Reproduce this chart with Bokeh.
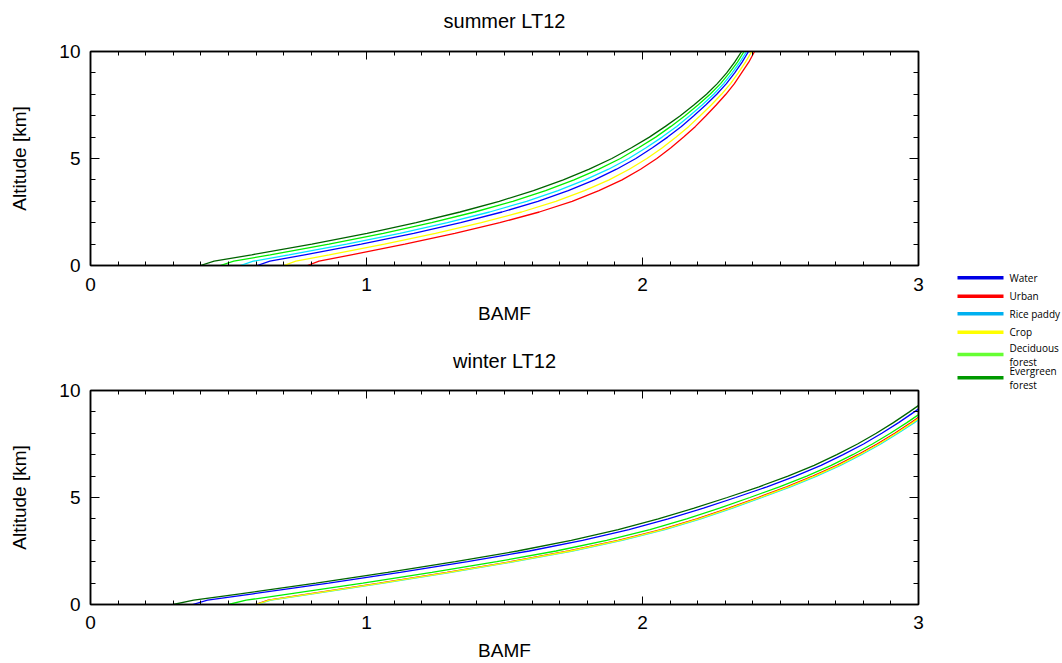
from bokeh.plotting import figure
from bokeh.models import (Range1d, LinearAxis, SingleIntervalTicker, ColumnDataSource,
                          CustomLabelingPolicy)
from bokeh.layouts import row, column
from bokeh.core.properties import value
from bokeh.embed import file_html
from bokeh.resources import INLINE

# ---------------- data ----------------
panel_titles = ["summer LT12", "winter LT12"]
series_names = ["Water", "Urban", "Rice paddy", "Crop", "Deciduous forest", "Evergreen forest"]
legend_labels = ["Water", "Urban", "Rice paddy", "Crop", "Deciduous\nforest", "Evergreen\nforest"]
line_colors = ["#0000FF", "#FF0000", "#00E5FF", "#FFFF00", "#00F000", "#006400"]
legend_colors = ["#0000E6", "#FF0000", "#00B0F0", "#FFFF00", "#66FF33", "#009900"]

altitude = [0, 0.2, 0.5, 1, 1.5, 2, 2.5, 3, 3.5, 4, 4.5, 5, 5.5, 6, 6.5, 7, 7.5, 8, 8.5, 9, 9.5, 10]

summer_water = [0.604, 0.650, 0.776, 0.981, 1.171, 1.341, 1.491, 1.621, 1.731, 1.826, 1.906,
                1.976, 2.036, 2.091, 2.141, 2.186, 2.229, 2.269, 2.304, 2.334, 2.361, 2.384]
summer_urban = [0.786, 0.828, 0.945, 1.139, 1.320, 1.483, 1.626, 1.745, 1.842, 1.926, 1.993,
                2.052, 2.103, 2.149, 2.192, 2.230, 2.267, 2.302, 2.333, 2.359, 2.385, 2.406]
summer_rice = [0.543, 0.590, 0.719, 0.928, 1.121, 1.293, 1.446, 1.580, 1.694, 1.792, 1.877,
               1.950, 2.013, 2.071, 2.124, 2.171, 2.216, 2.258, 2.294, 2.325, 2.353, 2.377]
summer_crop = [0.700, 0.744, 0.865, 1.065, 1.250, 1.416, 1.562, 1.686, 1.790, 1.879, 1.952,
               2.016, 2.072, 2.122, 2.168, 2.209, 2.249, 2.286, 2.319, 2.347, 2.373, 2.396]
summer_deciduous = [0.470, 0.519, 0.651, 0.864, 1.061, 1.236, 1.392, 1.530, 1.649, 1.752, 1.842,
                    1.920, 1.986, 2.048, 2.103, 2.154, 2.201, 2.245, 2.283, 2.315, 2.344, 2.368]
summer_evergreen = [0.398, 0.448, 0.584, 0.802, 1.002, 1.180, 1.339, 1.481, 1.605, 1.713, 1.807,
                    1.889, 1.960, 2.025, 2.083, 2.137, 2.186, 2.232, 2.271, 2.305, 2.334, 2.359]

winter_water = [0.370, 0.424, 0.589, 0.863, 1.122, 1.366, 1.590, 1.783, 1.951, 2.093, 2.221,
                2.338, 2.451, 2.554, 2.647, 2.727, 2.801, 2.867, 2.928, 2.985, 3.040, 3.089]
winter_urban = [0.597, 0.644, 0.792, 1.047, 1.292, 1.522, 1.732, 1.912, 2.067, 2.197, 2.312,
                2.419, 2.522, 2.617, 2.704, 2.780, 2.850, 2.914, 2.973, 3.028, 3.081, 3.130]
winter_rice = [0.600, 0.654, 0.805, 1.061, 1.306, 1.536, 1.746, 1.926, 2.081, 2.211, 2.326,
               2.433, 2.536, 2.631, 2.717, 2.793, 2.863, 2.926, 2.985, 3.040, 3.093, 3.142]
winter_crop = [0.600, 0.649, 0.799, 1.054, 1.299, 1.529, 1.739, 1.919, 2.074, 2.204, 2.319,
               2.426, 2.529, 2.624, 2.711, 2.787, 2.857, 2.920, 2.979, 3.034, 3.087, 3.136]
winter_deciduous = [0.500, 0.564, 0.722, 0.987, 1.237, 1.472, 1.687, 1.870, 2.027, 2.160, 2.279,
                    2.389, 2.496, 2.595, 2.684, 2.762, 2.833, 2.898, 2.958, 3.015, 3.069, 3.118]
winter_evergreen = [0.300, 0.374, 0.542, 0.817, 1.077, 1.322, 1.547, 1.742, 1.912, 2.057, 2.187,
                    2.307, 2.422, 2.527, 2.622, 2.704, 2.779, 2.847, 2.909, 2.967, 3.022, 3.072]

summer_series = [summer_water, summer_urban, summer_rice, summer_crop, summer_deciduous, summer_evergreen]
winter_series = [winter_water, winter_urban, winter_rice, winter_crop, winter_deciduous, winter_evergreen]

FONT = "Liberation Sans"
PANEL_W = 940
BORDER_L = 90
BORDER_R = 22
X_MIN, X_MAX = 0, 3


def make_title(text, height, center_y):
    # a strip above each panel, sharing the panel's horizontal frame, carrying its title
    t = figure(width=PANEL_W, height=height, x_range=Range1d(X_MIN, X_MAX),
               y_range=Range1d(height, 0), output_backend="svg", toolbar_location=None,
               min_border_left=BORDER_L, min_border_right=BORDER_R,
               min_border_top=0, min_border_bottom=0)
    t.axis.visible = False
    t.grid.visible = False
    t.outline_line_color = None
    src = ColumnDataSource(dict(x=[(X_MIN + X_MAX) / 2], y=[center_y], t=[text]))
    t.text("x", "y", text="t", source=src, text_font=value(FONT), text_font_size="20px",
           text_align="center", text_baseline="middle", text_color="black")
    return t


def make_panel(series, height, top, bottom, tick_standoff, label_standoff):
    p = figure(width=PANEL_W, height=height, x_range=Range1d(X_MIN, X_MAX), y_range=Range1d(0, 10),
               output_backend="svg", toolbar_location=None,
               min_border_left=BORDER_L, min_border_right=BORDER_R, min_border_top=top,
               min_border_bottom=bottom, x_axis_label="BAMF", y_axis_label="Altitude [km]")
    p.grid.visible = False
    p.outline_line_color = "black"
    p.outline_line_width = 1.5
    p.background_fill_color = "white"
    p.border_fill_color = "white"

    for name, xs, col in zip(series_names, series, line_colors):
        src = ColumnDataSource(dict(x=xs, y=altitude))
        p.line("x", "y", source=src, line_color=col, line_width=1.3)

    for ax in (p.xaxis[0], p.yaxis[0]):
        ax.major_label_text_font = FONT
        ax.major_label_text_font_size = "19px"
        ax.axis_label_text_font = FONT
        ax.axis_label_text_font_size = "19px"
        ax.axis_label_text_font_style = "normal"
        ax.axis_line_color = "black"
        ax.axis_line_width = 1.5
        ax.major_tick_out = 0
        ax.minor_tick_out = 0
        ax.major_tick_line_color = "black"
        ax.minor_tick_line_color = "black"
        ax.major_label_text_color = "black"
        ax.axis_label_text_color = "black"

    p.xaxis[0].ticker = SingleIntervalTicker(interval=1, num_minor_ticks=10)
    p.yaxis[0].ticker = SingleIntervalTicker(interval=5, num_minor_ticks=5)
    p.xaxis[0].major_tick_in = 8
    p.xaxis[0].minor_tick_in = 4
    p.yaxis[0].major_tick_in = 9
    p.yaxis[0].minor_tick_in = 5
    p.xaxis[0].major_label_standoff = tick_standoff
    p.xaxis[0].axis_label_standoff = label_standoff
    p.yaxis[0].major_label_standoff = 10
    p.yaxis[0].axis_label_standoff = 26

    no_labels = CustomLabelingPolicy(code="return new Set()")
    top_ax = LinearAxis(ticker=SingleIntervalTicker(interval=1, num_minor_ticks=10),
                        major_label_policy=no_labels, major_label_text_color=None,
                        major_label_text_font_size="1px", major_label_standoff=0,
                        major_tick_out=0, minor_tick_out=0, major_tick_in=8, minor_tick_in=4,
                        axis_line_width=1.5)
    right_ax = LinearAxis(ticker=SingleIntervalTicker(interval=5, num_minor_ticks=5),
                          major_label_policy=no_labels, major_label_text_color=None,
                          major_label_text_font_size="1px", major_label_standoff=0,
                          major_tick_out=0, minor_tick_out=0, major_tick_in=9, minor_tick_in=5,
                          axis_line_width=1.5)
    p.add_layout(top_ax, "above")
    p.add_layout(right_ax, "right")
    return p


t1 = make_title(panel_titles[0], 36, 20)
p1 = make_panel(summer_series, 297, 15, 68, 12, 9)
t2 = make_title(panel_titles[1], 39, 27)
p2 = make_panel(winter_series, 291, 18, 59, 11, 8)

# ---------------- legend panel ----------------
legend_rows = [277.3, 295.7, 313.3, 331.7, 354.0, 377.3]
pl = figure(width=122, height=663, x_range=Range1d(940, 1062), y_range=Range1d(663, 0),
            output_backend="svg", toolbar_location=None, min_border=0)
pl.axis.visible = False
pl.grid.visible = False
pl.outline_line_color = None
lsrc = ColumnDataSource(dict(x0=[957] * 6, x1=[1003] * 6, y=legend_rows,
                             tx=[1009] * 6, label=legend_labels, color=legend_colors))
pl.segment("x0", "y", "x1", "y", source=lsrc, line_color="color", line_width=3.5)
pl.text("tx", "y", text="label", source=lsrc, text_font=value("Open Sans"),
        text_font_size="10px", text_baseline="middle", text_align="left",
        text_line_height=1.0, text_color="black")

layout = row(column(t1, p1, t2, p2), pl)

open("out.html", "w").write(file_html(layout, INLINE))
